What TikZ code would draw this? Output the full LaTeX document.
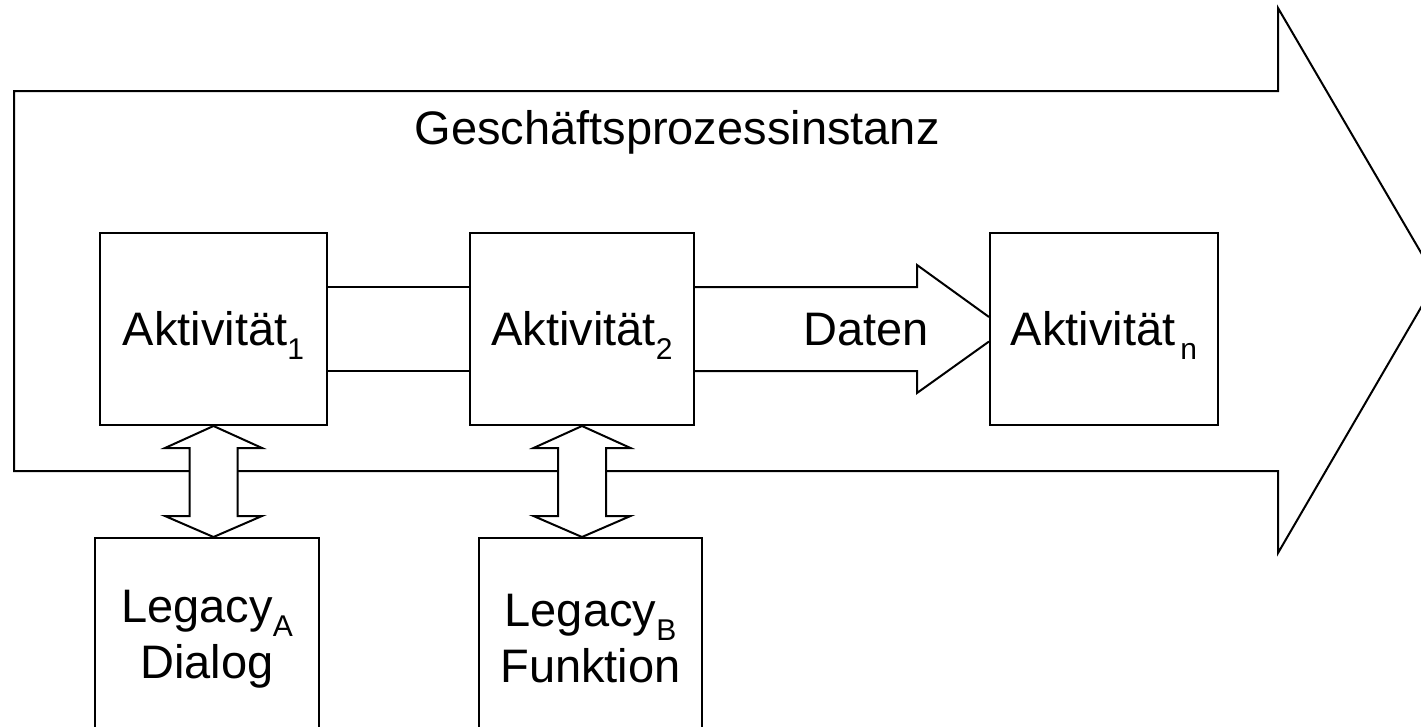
\documentclass[tikz,border=0pt]{standalone}
\usepackage{fontspec}
\setmainfont{Liberation Sans}
\usetikzlibrary{calc}
\newcommand\mysub[1]{\raisebox{-14pt}[0pt][0pt]{\fontsize{30}{30}\selectfont #1}}
\newcommand\dblarr[2]{%
  \draw[shapeline, fill=white] let \p1=(#1.south), \p2=(#2.north) in
    (\x1,\y1) -- (\x1+48.5pt,\y1-22pt) -- (\x1+24pt,\y1-22pt) -- (\x1+24pt,\y2+21pt)
    -- (\x1+48.5pt,\y2+21pt) -- (\x1,\y2) -- (\x1-48.5pt,\y2+21pt) -- (\x1-24pt,\y2+21pt)
    -- (\x1-24pt,\y1-22pt) -- (\x1-48.5pt,\y1-22pt) -- cycle;}
\begin{document}
\begin{tikzpicture}[x=1pt,y=-1pt,
  shapeline/.style={draw=black, line width=2pt, line join=miter},
  box/.style={draw=black, line width=2pt, fill=white, inner sep=0pt, align=center,
    minimum height=192pt},
  every node/.style={font=\fontsize{47}{56}\selectfont}]
\useasboundingbox (0,0) rectangle (1421,726);
% big process arrow
\draw[shapeline] (14,91) -- (1278,91) -- (1278,8) -- (1437,280) -- (1278,553)
  -- (1278,471) -- (14,471) -- cycle;
\node[anchor=base] (title) at (677,144) {Geschäftsprozessinstanz};
% activities
\node[box, minimum width=227pt] (a1) at (213.5,329) {Aktivität\mysub{1}};
\node[box, minimum width=224pt] (a2) at (582,329) {Aktivität\mysub{2}};
\node[box, minimum width=228pt] (an) at (1104,329) {Aktivität\hspace{5pt}\mysub{n}};
% legacy systems
\node[box, anchor=north, minimum width=224.5pt, minimum height=202pt] (legA) at (207,537)
  {Legacy\mysub{A}\\Dialog};
\node[box, anchor=north, minimum width=223pt, minimum height=202pt] (legB) at (590.5,537)
  {Legacy\mysub{B}\\Funktion};
% band between activity 1 and 2
\draw[shapeline] ($(a1.east)+(0,-42)$) -- ($(a2.west)+(0,-42)$);
\draw[shapeline] ($(a1.east)+(0,42)$) -- ($(a2.west)+(0,42)$);
% data arrow from activity 2 to activity n
\draw[shapeline] let \p1=(a2.east), \p2=(an.west) in
  (\x1,\y1+42pt) -- (\x2-72pt,\y1+42pt) -- (\x2-72pt,\y1+64pt) -- (\x2,\y1+12pt)
  (\x2,\y1-12.5pt) -- (\x2-72pt,\y1-64pt) -- (\x2-72pt,\y1-42pt) -- (\x1,\y1-42pt);
\node[anchor=base] (daten) at (866,345) {Daten};
% double arrows to legacy systems
\dblarr{a1}{legA}
\dblarr{a2}{legB}
\end{tikzpicture}
\end{document}
